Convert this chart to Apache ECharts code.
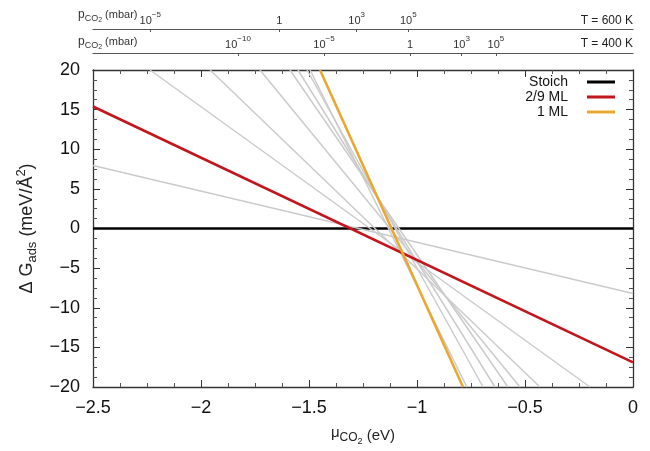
<!DOCTYPE html>
<html><head><meta charset="utf-8">
<script src="https://cdn.jsdelivr.net/npm/echarts@6/dist/echarts.min.js"></script>
<style>html,body{margin:0;padding:0;background:#fff}#c{width:650px;height:451px}</style>
</head><body><div id="c"></div>
<script>
const FONT = 'Liberation Sans';
// main axes
const xTickLabels = {'-2.5':'−2.5','-2':'−2','-1.5':'−1.5','-1':'−1','-0.5':'−0.5','0':'0'};
const yTickLabels = {'-20':'−20','-15':'−15','-10':'−10','-5':'−5','0':'0','5':'5','10':'10','15':'15','20':'20'};
// series (mu [eV], dG [meV/A^2])
const stoich = [[-2.5, 0], [0, 0]];
const ml29 = [[-2.5, 15.4], [0, -16.9]];
const ml1 = [[-1.449, 20], [-0.787, -20]];
const grayLines = [
  [[-2.5, 7.95], [0, -8.2]],
  [[-2.236, 20], [-0.199, -20]],
  [[-1.958, 20], [-0.431, -20]],
  [[-1.727, 20], [-0.523, -20]],
  [[-1.588, 20], [-0.579, -20]],
  [[-1.551, 20], [-0.639, -20]],
  [[-1.509, 20], [-0.694, -20]],
  [[-1.495, 20], [-0.769, -20]]
];
// pressure axes (log10 p in mbar)
const p600Ticks = [-5, 0, 3, 5];
const p400Ticks = [-10, -5, 0, 3, 5];
const p600Range = [-7.22, 13.71];
const p400Range = [-18.43, 12.97];

const pLabel = e => e === 0 ? '{b|1}' : '{b|10}{s|' + (e < 0 ? '−' : '') + Math.abs(e) + '}';
const pRich = {
  b: {fontSize: 11, lineHeight: 12, verticalAlign: 'bottom', fontFamily: FONT, color: '#333'},
  s: {fontSize: 8, lineHeight: 8, verticalAlign: 'bottom', padding: [0, 0, 7, 0], fontFamily: FONT, color: '#333'}
};
const axisLineStyle = {color: '#333', width: 1.3};

function pAxis(range, ticks, offset) {
  return {
    type: 'value', gridIndex: 0, position: 'top', offset: offset,
    min: range[0], max: range[1],
    axisLine: {show: true, onZero: false, lineStyle: {color: '#555', width: 1.2}},
    axisTick: {show: true, inside: true, length: 3, customValues: ticks, lineStyle: {color: '#555'}},
    axisLabel: {show: true, customValues: ticks, margin: 3, formatter: v => pLabel(v), rich: pRich},
    splitLine: {show: false}
  };
}

const pRichTitle = {
  p: {fontSize: 12, lineHeight: 13, verticalAlign: 'bottom', padding: [0, 0, 3, 0], fill: '#333', fontFamily: FONT},
  s: {fontSize: 9, lineHeight: 10, verticalAlign: 'bottom', padding: [0, 0, 1, 0], fill: '#333', fontFamily: FONT},
  ss: {fontSize: 7, lineHeight: 8, verticalAlign: 'bottom', fill: '#333', fontFamily: FONT},
  n: {fontSize: 11, lineHeight: 13, verticalAlign: 'bottom', padding: [0, 0, 4, 0], fill: '#333', fontFamily: FONT}
};

const series = [];
series.push({name: 'Stoich', type: 'line', data: stoich, symbol: 'none', lineStyle: {color: '#000', width: 2.6}, itemStyle: {color: '#000'}});
grayLines.forEach((d, i) => series.push({name: 'g' + i, type: 'line', data: d, symbol: 'none', lineStyle: {color: '#cbcbcb', width: 1.5}, itemStyle: {color: '#cbcbcb'}}));
series.push({name: '2/9 ML', type: 'line', data: ml29, symbol: 'none', lineStyle: {color: '#c2151c', width: 2.6}, itemStyle: {color: '#c2151c'}});
series.push({name: '1 ML', type: 'line', data: ml1, symbol: 'none', lineStyle: {color: '#e8a832', width: 2.6}, itemStyle: {color: '#e8a832'}});

const chart = echarts.init(document.getElementById('c'), null, {renderer: 'canvas'});
chart.setOption({
  animation: false,
  backgroundColor: '#fff',
  textStyle: {fontFamily: FONT},
  grid: {left: 93, right: 17, top: 70, bottom: 59, containLabel: false},
  legend: {
    data: ['Stoich', '2/9 ML', '1 ML'],
    orient: 'vertical', align: 'right', right: 30, top: 70,
    icon: 'rect', itemWidth: 28, itemHeight: 3, itemGap: 1,
    textStyle: {fontSize: 14, color: '#111', fontFamily: FONT, padding: [0, 14, 0, 0], lineHeight: 14}
  },
  xAxis: [
    {
      type: 'value', min: -2.5, max: 0, interval: 0.5, position: 'bottom',
      name: '{m|μ}{s|CO}{ss|2}{n| (eV)}', nameLocation: 'middle', nameGap: 39,
      nameTextStyle: {rich: {
        m: {fontSize: 15, lineHeight: 18, verticalAlign: 'bottom', padding: [0, 0, 4, 0], color: '#222', fontFamily: FONT},
        s: {fontSize: 12, lineHeight: 14, verticalAlign: 'bottom', color: '#222', fontFamily: FONT},
        ss: {fontSize: 9, lineHeight: 10, verticalAlign: 'bottom', padding: [0, 0, -2, 0], color: '#222', fontFamily: FONT},
        n: {fontSize: 15, lineHeight: 18, verticalAlign: 'bottom', padding: [0, 0, 1, 0], color: '#222', fontFamily: FONT}
      }},
      axisLine: {show: true, onZero: false, lineStyle: axisLineStyle},
      axisTick: {show: true, inside: true, length: 7, lineStyle: {color: '#333'}},
      minorTick: {show: true, splitNumber: 4, length: 4, lineStyle: {color: '#555'}},
      axisLabel: {fontSize: 18, color: '#111', margin: 12, fontFamily: FONT, formatter: v => xTickLabels[String(v)] ?? String(v)},
      splitLine: {show: false}
    },
    {
      type: 'value', min: -2.5, max: 0, interval: 0.5, position: 'top', offset: 0,
      axisLine: {show: true, onZero: false, lineStyle: axisLineStyle},
      axisTick: {show: true, inside: true, length: 7, lineStyle: {color: '#333'}},
      minorTick: {show: true, splitNumber: 4, length: 4, lineStyle: {color: '#555'}},
      axisLabel: {show: false}, splitLine: {show: false}
    },
    pAxis(p400Range, p400Ticks, 17),
    pAxis(p600Range, p600Ticks, 41)
  ],
  yAxis: [
    {
      type: 'value', min: -20, max: 20, interval: 5, position: 'left',
      name: '{d|Δ G}{s|ads}{d| (meV/Å}{u|2}{d|)}', nameLocation: 'middle', nameRotate: 90, nameGap: 50,
      nameTextStyle: {rich: {
        d: {fontSize: 18, lineHeight: 20, verticalAlign: 'bottom', padding: [0, 0, 3, 0], color: '#222', fontFamily: FONT},
        s: {fontSize: 13, lineHeight: 14, verticalAlign: 'bottom', color: '#222', fontFamily: FONT},
        u: {fontSize: 13, lineHeight: 14, verticalAlign: 'bottom', padding: [0, 0, 11, 0], color: '#222', fontFamily: FONT}
      }},
      axisLine: {show: true, onZero: false, lineStyle: axisLineStyle},
      axisTick: {show: true, inside: true, length: 7, lineStyle: {color: '#333'}},
      minorTick: {show: true, splitNumber: 4, length: 4, lineStyle: {color: '#555'}},
      axisLabel: {fontSize: 18, color: '#111', margin: 13, fontFamily: FONT, formatter: v => yTickLabels[String(v)] ?? String(v)},
      splitLine: {show: false}
    },
    {
      type: 'value', min: -20, max: 20, interval: 5, position: 'right',
      axisLine: {show: true, onZero: false, lineStyle: axisLineStyle},
      axisTick: {show: true, inside: true, length: 7, lineStyle: {color: '#333'}},
      minorTick: {show: true, splitNumber: 4, length: 4, lineStyle: {color: '#555'}},
      axisLabel: {show: false}, splitLine: {show: false}
    }
  ],
  graphic: [
    {type: 'text', x: 78, y: 24, style: {text: '{p|p}{s|CO}{ss|2}{n| (mbar)}', align: 'left', verticalAlign: 'bottom', rich: pRichTitle}},
    {type: 'text', x: 78, y: 51, style: {text: '{p|p}{s|CO}{ss|2}{n| (mbar)}', align: 'left', verticalAlign: 'bottom', rich: pRichTitle}},
    {type: 'text', x: 633, y: 27, style: {text: 'T = 600 K', align: 'right', verticalAlign: 'bottom', fontSize: 12, fontFamily: FONT, fill: '#222'}},
    {type: 'text', x: 633, y: 50, style: {text: 'T = 400 K', align: 'right', verticalAlign: 'bottom', fontSize: 12, fontFamily: FONT, fill: '#222'}}
  ],
  series: series.map(s => Object.assign({xAxisIndex: 0, yAxisIndex: 0, silent: true, clip: true}, s))
});
</script>
</body></html>
